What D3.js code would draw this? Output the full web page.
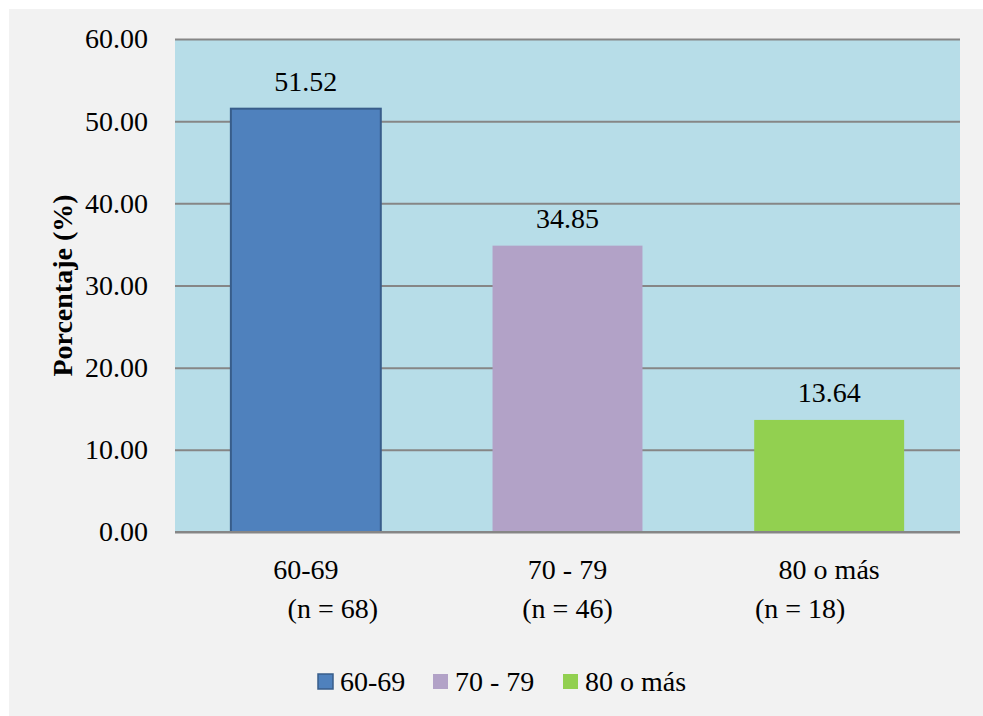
<!DOCTYPE html>
<html>
<head>
<meta charset="utf-8">
<script src="https://cdn.jsdelivr.net/npm/d3@7"></script>
<style>
  html, body { margin: 0; padding: 0; background: #ffffff; }
  svg { display: block; }
  text { font-family: "Liberation Serif", "Times New Roman", serif; fill: #000; }
</style>
</head>
<body>
<svg id="chart" width="983" height="716"></svg>
<script>
// Age groups, percentage of participants and group sizes
const categories = ["60-69", "70 - 79", "80 o más"];
const percentages = [51.52, 34.85, 13.64];
const groupSizes = ["(n = 68)", "(n = 46)", "(n = 18)"];
const yTicks = [0, 10, 20, 30, 40, 50, 60];
const barColors = ["#4f81bd", "#b2a2c7", "#92d050"];
const barStrokes = ["#385d8a", "none", "none"];

const W = 983, H = 716;
const plot = { left: 175, right: 960, top: 39, bottom: 532 };
const fontSize = 28;

const svg = d3.select("#chart");

// outer panel
svg.append("rect").attr("x", 9).attr("y", 9).attr("width", W).attr("height", H)
  .attr("fill", "#f2f2f2");

const x = d3.scaleBand()
  .domain(categories)
  .range([plot.left, plot.right])
  .paddingInner(0.427)
  .paddingOuter(0.2135);

const y = d3.scaleLinear().domain([0, 60]).range([plot.bottom, plot.top]);

// plot background
svg.append("rect")
  .attr("x", plot.left).attr("y", plot.top)
  .attr("width", plot.right - plot.left).attr("height", plot.bottom - plot.top)
  .attr("fill", "#b7dde8");

// y axis: gridlines and tick labels
const yAxis = d3.axisLeft(y)
  .tickValues(yTicks)
  .tickSize(-(plot.right - plot.left))
  .tickPadding(27)
  .tickFormat(d3.format(".2f"));

const gy = svg.append("g").attr("transform", `translate(${plot.left},0)`).call(yAxis);
gy.select(".domain").remove();
gy.selectAll(".tick line").attr("stroke", "#868686").attr("stroke-width", 2);
gy.selectAll(".tick text")
  .attr("font-size", fontSize)
  .attr("font-family", "Liberation Serif, Times New Roman, serif")
  .attr("fill", "#000");

// bars
svg.append("g").selectAll("rect")
  .data(percentages)
  .join("rect")
  .attr("x", (d, i) => x(categories[i]))
  .attr("y", d => y(d))
  .attr("width", x.bandwidth())
  .attr("height", d => y(0) - y(d))
  .attr("fill", (d, i) => barColors[i])
  .attr("stroke", (d, i) => barStrokes[i])
  .attr("stroke-width", 2);

// baseline redrawn above bars
svg.append("line")
  .attr("x1", plot.left).attr("x2", plot.right)
  .attr("y1", y(0)).attr("y2", y(0))
  .attr("stroke", "#868686").attr("stroke-width", 2);

// value labels
svg.append("g").selectAll("text")
  .data(percentages)
  .join("text")
  .attr("x", (d, i) => x(categories[i]) + x.bandwidth() / 2)
  .attr("y", d => y(d) - 18)
  .attr("text-anchor", "middle")
  .attr("font-size", fontSize)
  .text(d => d.toFixed(2));

// category labels (two lines each)
const nShift = [27, 0, -29];
const cat = svg.append("g");
cat.selectAll("text.cat")
  .data(categories)
  .join("text")
  .attr("class", "cat")
  .attr("x", d => x(d) + x.bandwidth() / 2)
  .attr("y", plot.bottom + 47)
  .attr("text-anchor", "middle")
  .attr("font-size", fontSize)
  .text(d => d);
cat.selectAll("text.n")
  .data(groupSizes)
  .join("text")
  .attr("class", "n")
  .attr("x", (d, i) => x(categories[i]) + x.bandwidth() / 2 + nShift[i])
  .attr("y", plot.bottom + 86)
  .attr("text-anchor", "middle")
  .attr("font-size", fontSize)
  .text(d => d);

// y axis title
svg.append("text")
  .attr("transform", `translate(72,${(plot.top + plot.bottom) / 2}) rotate(-90)`)
  .attr("text-anchor", "middle")
  .attr("font-size", fontSize)
  .attr("font-weight", "bold")
  .text("Porcentaje (%)");

// legend
const legendX = [318, 433, 563];
const legend = svg.append("g");
categories.forEach((c, i) => {
  legend.append("rect")
    .attr("x", legendX[i]).attr("y", 674)
    .attr("width", 15).attr("height", 15)
    .attr("fill", barColors[i])
    .attr("stroke", barStrokes[i])
    .attr("stroke-width", 1.5);
  legend.append("text")
    .attr("x", legendX[i] + 22).attr("y", 691)
    .attr("font-size", fontSize)
    .text(c);
});
</script>
</body>
</html>
